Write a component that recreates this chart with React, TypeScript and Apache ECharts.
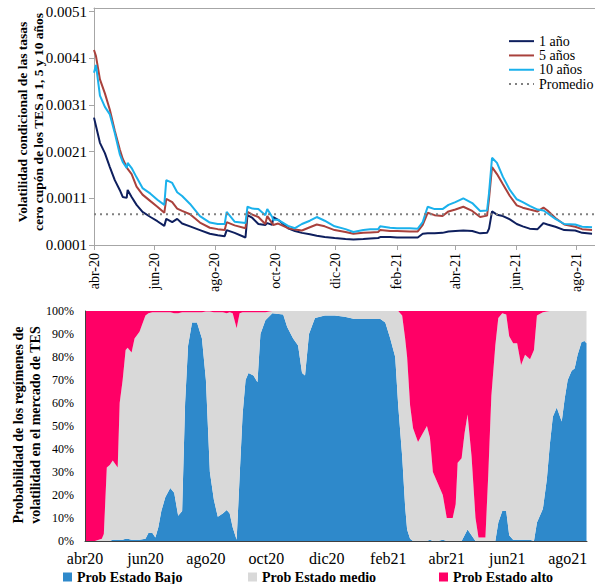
import { useEffect, useRef } from "react";
import * as echarts from "echarts";

// ---------- shared x ticks (days since 1 Apr 2020) ----------
const monthTickDays = [0, 61, 122, 183, 244, 306, 365, 426, 487];
const topTickLabels = ["abr-20", "jun-20", "ago-20", "oct-20", "dic-20", "feb-21", "abr-21", "jun-21", "ago-21"];
const bottomTickLabels = ["abr20", "jun20", "ago20", "oct20", "dic20", "feb21", "abr21", "jun21", "ago21"];

// ---------- top chart: conditional volatility ----------
const yTicksTop = [0.0001, 0.0011, 0.0021, 0.0031, 0.0041, 0.0051];
const promedio = 0.00076;
const daysTop = [0, 2, 6, 11, 16, 21, 26, 29, 33, 34, 38, 43, 49, 57, 64, 71, 73, 79, 84, 89, 97, 107, 117, 125, 132, 134, 142, 153, 155, 160, 166, 173, 175, 180, 181, 186, 196, 203, 210, 218, 225, 233, 243, 254, 262, 272, 279, 287, 289, 299, 306, 319, 327, 332, 337, 344, 352, 358, 365, 373, 382, 390, 397, 399, 402, 407, 413, 420, 427, 433, 440, 448, 454, 458, 466, 475, 486, 493, 503];
const vol1 = [0.00283, 0.00265, 0.00229, 0.00207, 0.00177, 0.00149, 0.00128, 0.00113, 0.00111, 0.00128, 0.00113, 0.00096, 0.00081, 0.0007, 0.00061, 0.00051, 0.00066, 0.00059, 0.00066, 0.00056, 0.0005, 0.00042, 0.00034, 0.00031, 0.00029, 0.00042, 0.00036, 0.00026, 0.00074, 0.00068, 0.00055, 0.00053, 0.00057, 0.00053, 0.0007, 0.00064, 0.00046, 0.0004, 0.00036, 0.00033, 0.0003, 0.00027, 0.00025, 0.00023, 0.00022, 0.00023, 0.00024, 0.00025, 0.00027, 0.00027, 0.00026, 0.00026, 0.00026, 0.00034, 0.00035, 0.00035, 0.00036, 0.00039, 0.0004, 0.00041, 0.0004, 0.00035, 0.00036, 0.00045, 0.00082, 0.00075, 0.00072, 0.00065, 0.00055, 0.0005, 0.00045, 0.00044, 0.00057, 0.00054, 0.00049, 0.00042, 0.00041, 0.00036, 0.00034];
const vol5 = [0.00428, 0.00415, 0.00365, 0.00335, 0.003, 0.00255, 0.00215, 0.00195, 0.00177, 0.00173, 0.00162, 0.00135, 0.00118, 0.00104, 0.00092, 0.00079, 0.00109, 0.00102, 0.00088, 0.00083, 0.00076, 0.00058, 0.00047, 0.00044, 0.00042, 0.00059, 0.00052, 0.00046, 0.00081, 0.00075, 0.0007, 0.00055, 0.00072, 0.00056, 0.00053, 0.00056, 0.00046, 0.00043, 0.00041, 0.00048, 0.00054, 0.0005, 0.00042, 0.00038, 0.00034, 0.00036, 0.00037, 0.00038, 0.00042, 0.0004, 0.0004, 0.00039, 0.00039, 0.00053, 0.00079, 0.00074, 0.00072, 0.00082, 0.00086, 0.00092, 0.00083, 0.0007, 0.00073, 0.0011, 0.00177, 0.00162, 0.0014, 0.00115, 0.00095, 0.0009, 0.00086, 0.00082, 0.0009, 0.00084, 0.00068, 0.00054, 0.00049, 0.00044, 0.00042];
const vol10 = [0.00379, 0.00396, 0.0033, 0.00306, 0.0029, 0.0025, 0.00205, 0.00188, 0.00175, 0.00186, 0.00175, 0.00155, 0.00132, 0.0012, 0.00107, 0.00096, 0.00149, 0.00143, 0.00123, 0.00115, 0.00098, 0.00072, 0.00058, 0.00055, 0.00055, 0.00081, 0.0006, 0.00057, 0.00092, 0.00088, 0.00087, 0.00074, 0.00087, 0.0007, 0.00064, 0.00064, 0.00051, 0.00046, 0.00055, 0.00062, 0.0007, 0.00062, 0.0005, 0.00044, 0.00038, 0.00042, 0.00044, 0.00044, 0.0005, 0.00047, 0.00046, 0.00046, 0.00045, 0.00059, 0.00092, 0.00087, 0.00087, 0.00096, 0.00102, 0.0011, 0.001, 0.00083, 0.00084, 0.00122, 0.00197, 0.00186, 0.00156, 0.00128, 0.00108, 0.00102, 0.00094, 0.00086, 0.00084, 0.00078, 0.00066, 0.00055, 0.00054, 0.00049, 0.00048];

// ---------- bottom chart: regime probabilities (%) ----------
const daysBottom = [0, 10, 17, 19, 22, 25, 28, 33, 35, 38, 41, 43, 47, 50, 55, 61, 64, 68, 71, 74, 77, 81, 86, 90, 94, 98, 101, 104, 108, 113, 118, 122, 126, 130, 134, 139, 143, 146, 149, 153, 156, 159, 162, 165, 170, 174, 177, 182, 189, 200, 204, 210, 215, 219, 222, 226, 232, 242, 252, 262, 272, 283, 298, 303, 308, 313, 316, 320, 323, 325, 328, 331, 336, 341, 345, 348, 351, 356, 361, 365, 371, 374, 376, 380, 383, 386, 390, 394, 397, 404, 407, 410, 414, 417, 421, 425, 428, 432, 436, 440, 444, 449, 453, 456, 462, 466, 469, 472, 476, 481, 484, 487, 491, 494, 497, 501, 504, 506];
const probBajo = [0, 0, 0, 0, 0, 0, 0.5, 0.5, 0.5, 0.5, 1, 1, 0.5, 0.5, 0.5, 1, 3.5, 3.5, 1.5, 6, 13, 19, 23, 21, 11, 13, 60, 85, 95, 95, 88, 70, 30, 18, 10.5, 12, 13.5, 12, 6, 0.5, 28, 55, 70, 73, 72, 69, 90, 96, 99, 98.5, 93, 88, 85, 73, 72, 90, 97, 98, 98, 97.5, 96.5, 96.5, 96.5, 95, 88, 80, 59, 37, 15, 5, 1, 0, 0, 0, 0, 0.5, 0, 0, 0.5, 0, 0, 0, 0, 0, 2.5, 5, 2.5, 0, 0, 0, 0, 0, 0, 8, 13, 13, 2.5, 0.5, 0.5, 0.5, 0.5, 0.5, 0, 8, 14, 27, 42, 54, 58, 52, 62, 70, 74, 75, 81, 86.5, 87, 86];
const probMedio = [0, 0, 1, 3, 32, 33, 34.5, 31.5, 59.5, 69.5, 82, 83, 81.5, 87.5, 90.5, 97, 95.5, 96, 98, 93.5, 86.5, 80.5, 76.5, 78, 88, 86.5, 39.5, 14.5, 4.5, 4.5, 11.5, 29.8, 69.8, 81.5, 89, 87.5, 85.5, 87.5, 93, 92, 71, 44.5, 29.5, 26.5, 27.5, 30.5, 9.5, 3.5, 1, 1.5, 7, 12, 15, 27, 28, 10, 3, 2, 2, 2.5, 3.5, 3.5, 3.5, 5, 12, 20, 41, 61, 73, 75, 58, 49, 43, 47, 50, 44.5, 30, 25, 19.5, 10, 10, 16, 34, 36, 44.5, 50, 34.5, 10, 1.5, 1.5, 30, 63, 85, 89, 86, 85.5, 86.5, 85.5, 85.5, 76, 80.5, 78.5, 83, 90, 85.5, 72.8, 58, 46, 42, 48, 38, 30, 26, 25, 19, 13.5, 13, 14];
const probAlto = [100, 100, 99, 97, 68, 67, 65, 68, 40, 30, 17, 16, 18, 12, 9, 2, 1, 0.5, 0.5, 0.5, 0.5, 0.5, 0.5, 1, 1, 0.5, 0.5, 0.5, 0.5, 0.5, 0.5, 0.2, 0.2, 0.5, 0.5, 0.5, 1, 0.5, 1, 7.5, 1, 0.5, 0.5, 0.5, 0.5, 0.5, 0.5, 0.5, 0, 0, 0, 0, 0, 0, 0, 0, 0, 0, 0, 0, 0, 0, 0, 0, 0, 0, 0, 2, 12, 20, 41, 51, 57, 53, 50, 55, 70, 75, 80, 90, 90, 84, 66, 64, 53, 45, 63, 90, 98.5, 98.5, 70, 37, 15, 3, 1, 1.5, 11, 14, 14, 23.5, 19, 21, 17, 2, 0.5, 0.2, 0, 0, 0, 0, 0, 0, 0, 0, 0, 0, 0, 0];

const SERIF = '"Liberation Serif", "Times New Roman", serif';

export default function App() {
  const ref = useRef<HTMLDivElement>(null);

  useEffect(() => {
    document.body.style.margin = "0";
    if (!ref.current) return;
    const chart = echarts.init(ref.current, undefined, { renderer: "svg" });

    const topMax = 506;
    const botMax = 506.5;

    const lineSeries = (name: string, vals: number[], color: string) => ({
      name,
      type: "line",
      xAxisIndex: 0,
      yAxisIndex: 0,
      data: daysTop.map((d, i) => [d, vals[i]]),
      symbol: "none",
      lineStyle: { color, width: 2 },
      itemStyle: { color },
    });

    // value first, day second, so that the stack runs on the y (value) dimension
    const areaSeries = (name: string, vals: number[], color: string) => ({
      name,
      type: "line",
      xAxisIndex: 2,
      yAxisIndex: 1,
      stack: "prob",
      encode: { x: 1, y: 0 },
      data: daysBottom.map((d, i) => [vals[i], d]),
      symbol: "none",
      lineStyle: { width: 0, color },
      itemStyle: { color },
      areaStyle: { color, opacity: 1 },
    });

    const smallLegend = (name: string, left: number) => ({
      data: [name],
      left,
      top: 570,
      icon: "rect",
      itemWidth: 9,
      itemHeight: 9,
      padding: 0,
      selectedMode: false,
      textStyle: { fontFamily: SERIF, fontWeight: "bold", fontSize: 14, color: "#000", lineHeight: 12 },
    });

    chart.setOption({
      animation: false,
      backgroundColor: "#fff",
      grid: [
        { left: 94, right: 0, top: 8, height: 237 },
        { left: 85, width: 502, top: 311, height: 230 },
      ],
      legend: [
        {
          data: ["1 año", "5 años", "10 años", "Promedio"],
          orient: "vertical",
          left: 508,
          top: 34,
          itemWidth: 25,
          itemHeight: 10,
          itemGap: 0,
          padding: 0,
          selectedMode: false,
          itemStyle: { opacity: 0 },
          textStyle: { fontFamily: SERIF, fontSize: 14, color: "#000", lineHeight: 14.3 },
        },
        smallLegend("Prob Estado Bajo", 63),
        smallLegend("Prob Estado medio", 248),
        smallLegend("Prob Estado alto", 439),
      ],
      xAxis: [
        {
          type: "value",
          gridIndex: 0,
          min: 0,
          max: topMax,
          splitLine: { show: false },
          axisLine: { lineStyle: { color: "#A6A6A6", width: 1 } },
          axisTick: { show: true, customValues: monthTickDays, length: 5, lineStyle: { color: "#A6A6A6" } },
          axisLabel: {
            customValues: monthTickDays,
            rotate: 90,
            margin: 8,
            fontFamily: SERIF,
            fontSize: 14,
            color: "#000",
            formatter: (v: number) => topTickLabels[monthTickDays.indexOf(v)] ?? "",
          },
        },
        {
          type: "value",
          gridIndex: 0,
          position: "top",
          min: 0,
          max: topMax,
          splitLine: { show: false },
          axisLine: { lineStyle: { color: "#A6A6A6", width: 1 } },
          axisTick: { show: false },
          axisLabel: { show: false },
        },
        {
          type: "value",
          gridIndex: 1,
          min: 0,
          max: botMax,
          z: 5,
          splitLine: { show: false },
          axisLine: { lineStyle: { color: "#404040", width: 1 } },
          axisTick: { show: false },
          axisLabel: {
            customValues: monthTickDays,
            margin: 9,
            fontFamily: SERIF,
            fontSize: 16,
            lineHeight: 16,
            color: "#000",
            formatter: (v: number) => bottomTickLabels[monthTickDays.indexOf(v)] ?? "",
          },
        },
      ],
      yAxis: [
        {
          type: "value",
          gridIndex: 0,
          min: 0.0001,
          max: 0.00518,
          splitLine: { show: false },
          axisLine: { show: true, lineStyle: { color: "#A6A6A6", width: 1 } },
          axisTick: { show: true, customValues: yTicksTop, length: 5, lineStyle: { color: "#A6A6A6" } },
          axisLabel: {
            customValues: yTicksTop,
            margin: 7,
            fontFamily: SERIF,
            fontSize: 15,
            color: "#000",
            formatter: (v: number) => v.toFixed(4),
          },
        },
        {
          type: "value",
          gridIndex: 1,
          min: 0,
          max: 100,
          interval: 10,
          z: 5,
          splitLine: { show: false },
          axisLine: { show: true, lineStyle: { color: "#404040", width: 1 } },
          axisTick: { show: false },
          axisLabel: {
            margin: 11,
            fontFamily: SERIF,
            fontSize: 12,
            color: "#000",
            formatter: "{value}%",
          },
        },
      ],
      graphic: [
        {
          type: "text",
          x: 30,
          y: 122,
          rotation: Math.PI / 2,
          style: {
            text: "Volatilidad condicional de las tasas\ncero cupón de los TES a 1, 5 y 10 años",
            font: `bold 13.5px ${SERIF}`,
            align: "center",
            verticalAlign: "middle",
            lineHeight: 16,
            fill: "#000",
          },
        },
        {
          type: "text",
          x: 27,
          y: 425,
          rotation: Math.PI / 2,
          style: {
            text: "Probabilidad de los regímenes de\nvolatilidad en el mercado de TES",
            font: `bold 14px ${SERIF}`,
            align: "center",
            verticalAlign: "middle",
            lineHeight: 17,
            fill: "#000",
          },
        },
      ],
      series: [
        lineSeries("1 año", vol1, "#0E1F5E"),
        lineSeries("5 años", vol5, "#A9413C"),
        lineSeries("10 años", vol10, "#1AB1EC"),
        {
          name: "Promedio",
          type: "line",
          xAxisIndex: 0,
          yAxisIndex: 0,
          data: [
            [0, promedio],
            [topMax, promedio],
          ],
          symbol: "none",
          lineStyle: { color: "#808080", width: 2, type: [2, 4] },
          itemStyle: { color: "#808080" },
        },
        areaSeries("Prob Estado Bajo", probBajo, "#2E89CB"),
        areaSeries("Prob Estado medio", probMedio, "#D9D9D9"),
        areaSeries("Prob Estado alto", probAlto, "#FF0066"),
      ],
    });

    return () => chart.dispose();
  }, []);

  return <div ref={ref} style={{ width: 595, height: 584 }} />;
}
